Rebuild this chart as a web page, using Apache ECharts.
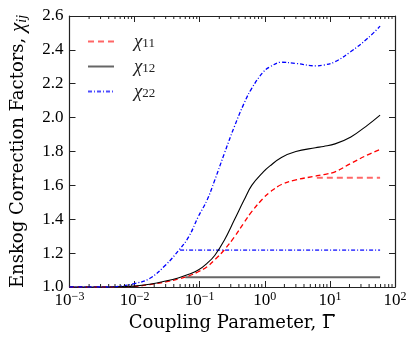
<!DOCTYPE html>
<html>
<head>
<meta charset="utf-8">
<script src="https://cdn.jsdelivr.net/npm/echarts@6/dist/echarts.min.js"></script>
<style>
html,body{margin:0;padding:0;background:#fff;}
#chart{width:415px;height:343px;}
</style>
</head>
<body>
<div id="chart"></div>
<script>
// coupling parameter (x) shared by the three full curves
var gamma = [0.001, 0.003, 0.006, 0.01, 0.017, 0.03, 0.048, 0.068, 0.095, 0.13, 0.17, 0.24, 0.34, 0.48, 0.63, 0.95, 1.2, 1.8, 3.0, 6.0, 8.0, 12, 21, 38, 59];
var chi11 = [1.0, 1.0, 1.002, 1.004, 1.014, 1.03, 1.048, 1.065, 1.09, 1.12, 1.16, 1.22, 1.295, 1.38, 1.445, 1.525, 1.56, 1.605, 1.632, 1.655, 1.664, 1.68, 1.73, 1.78, 1.812];
var chi12 = [1.0, 1.0, 1.002, 1.005, 1.016, 1.035, 1.055, 1.075, 1.10, 1.14, 1.186, 1.277, 1.395, 1.513, 1.60, 1.68, 1.715, 1.765, 1.80, 1.822, 1.83, 1.845, 1.886, 1.956, 2.015];
var chi22 = [1.0, 1.0, 1.005, 1.02, 1.05, 1.13, 1.218, 1.297, 1.415, 1.514, 1.63, 1.79, 1.946, 2.084, 2.173, 2.27, 2.30, 2.327, 2.32, 2.306, 2.31, 2.33, 2.39, 2.468, 2.54];

// capped branches (flat lines)
var chi11CapX = [6.3, 59], chi11CapY = [1.645, 1.645];
var chi12CapX = [0.06, 59], chi12CapY = [1.057, 1.057];
var chi22CapX = [0.05, 59], chi22CapY = [1.218, 1.218];

// minor ticks of the log axis
var minorTicks = [0.002, 0.003, 0.004, 0.005, 0.006, 0.007, 0.008, 0.009,
    0.02, 0.03, 0.04, 0.05, 0.06, 0.07, 0.08, 0.09,
    0.2, 0.3, 0.4, 0.5, 0.6, 0.7, 0.8, 0.9,
    2, 3, 4, 5, 6, 7, 8, 9,
    20, 30, 40, 50, 60, 70, 80, 90];

var legendNames = ['χ11', 'χ12', 'χ22'];
var FONT = 'Liberation Serif';
var NAME_FONT = 'DejaVu Serif';

function pairs(xs, ys){
    var out = [];
    for (var i = 0; i < xs.length; i++) out.push([xs[i], ys[i]]);
    return out;
}

// little canvas used as background of the Γ token -> overline
var bar = document.createElement('canvas');
bar.width = 20;
bar.height = 26;
var bctx = bar.getContext('2d');
bctx.fillStyle = '#000';
bctx.fillRect(1, 0.5, 18, 1.3);

var chart = echarts.init(document.getElementById('chart'), null, {renderer: 'canvas'});

var axisLineStyle = {color: '#222', width: 1.2};
var xLabelRich = {
    b: {fontFamily: FONT, fontSize: 17, color: '#000', lineHeight: 20},
    s: {fontFamily: FONT, fontSize: 12, color: '#000', lineHeight: 20, verticalAlign: 'top'}
};

var option = {
    animation: false,
    backgroundColor: '#fff',
    grid: {left: 61, right: 20, top: 16, bottom: 56},
    legend: {
        data: legendNames,
        orient: 'vertical',
        left: 82,
        top: 27,
        itemWidth: 26,
        itemHeight: 14,
        itemGap: 6,
        itemStyle: {opacity: 0},
        formatter: function(name){
            return '{c|χ}{n|' + name.slice(1) + '}';
        },
        textStyle: {
            padding: [0, 0, 0, 15],
            rich: {
                c: {fontFamily: FONT, fontSize: 19, fontStyle: 'italic', color: '#222', lineHeight: 18},
                n: {fontFamily: FONT, fontSize: 13, color: '#222', lineHeight: 9, verticalAlign: 'bottom'}
            }
        }
    },
    xAxis: [{
        type: 'log',
        logBase: 10,
        min: 0.001,
        max: 100,
        position: 'bottom',
        name: '{t|Coupling Parameter, }{g|Γ}',
        nameLocation: 'middle',
        nameGap: 22,
        nameTextStyle: {
            rich: {
                t: {fontFamily: NAME_FONT, fontSize: 18, color: '#000', lineHeight: 26},
                g: {fontFamily: NAME_FONT, fontSize: 18, color: '#000', lineHeight: 26, backgroundColor: {image: bar}}
            }
        },
        axisLine: {lineStyle: axisLineStyle},
        axisTick: {inside: true, length: 6, lineStyle: {color: '#222'}},
        splitLine: {show: false},
        axisLabel: {
            margin: 4,
            formatter: function(v){
                var e = Math.round(Math.log10(v));
                return '{b|10}{s|' + (e < 0 ? '\u2212' : '') + Math.abs(e) + '}';
            },
            rich: xLabelRich
        }
    }, {
        type: 'log',
        logBase: 10,
        min: 0.001,
        max: 100,
        position: 'top',
        axisLine: {lineStyle: axisLineStyle},
        axisTick: {inside: true, length: 6, lineStyle: {color: '#222'}},
        axisLabel: {show: false},
        splitLine: {show: false}
    }],
    yAxis: [{
        type: 'value',
        min: 1.0,
        max: 2.6,
        interval: 0.2,
        position: 'left',
        name: '{t|Enskog Correction Factors, }{c|χ}{s|ij}',
        nameLocation: 'middle',
        nameRotate: 90,
        nameGap: 40,
        nameTextStyle: {
            rich: {
                t: {fontFamily: NAME_FONT, fontSize: 18, color: '#000', lineHeight: 22},
                c: {fontFamily: FONT, fontSize: 21, fontStyle: 'italic', color: '#000', lineHeight: 22},
                s: {fontFamily: FONT, fontSize: 14, fontStyle: 'italic', color: '#000', lineHeight: 10, verticalAlign: 'bottom'}
            }
        },
        axisLine: {show: true, lineStyle: axisLineStyle},
        axisTick: {show: true, inside: true, length: 6, lineStyle: {color: '#222'}},
        splitLine: {show: false},
        axisLabel: {
            margin: 6,
            fontFamily: FONT,
            fontSize: 17,
            color: '#000',
            formatter: function(v){ return v.toFixed(1); }
        }
    }, {
        type: 'value',
        min: 1.0,
        max: 2.6,
        interval: 0.2,
        position: 'right',
        axisLine: {show: true, lineStyle: axisLineStyle},
        axisTick: {show: true, inside: true, length: 6, lineStyle: {color: '#222'}},
        axisLabel: {show: false},
        splitLine: {show: false}
    }],
    series: [
        // capped branches, these carry the legend entries
        {
            name: 'χ11', type: 'line', symbol: 'none', z: 3,
            data: pairs(chi11CapX, chi11CapY),
            lineStyle: {color: '#ff0000', opacity: 0.6, width: 2, type: [6, 4]},
            itemStyle: {color: '#ff6666'}
        },
        {
            name: 'χ12', type: 'line', symbol: 'none', z: 3,
            data: pairs(chi12CapX, chi12CapY),
            lineStyle: {color: '#000', opacity: 0.6, width: 2, type: 'solid'},
            itemStyle: {color: '#666'}
        },
        {
            name: 'χ22', type: 'line', symbol: 'none', z: 3,
            data: pairs(chi22CapX, chi22CapY),
            lineStyle: {color: '#0000ff', opacity: 0.7, width: 1.6, type: [4, 2, 1, 2]},
            itemStyle: {color: '#6666ff'}
        },
        // full curves
        {
            name: 'χ11 full', type: 'line', symbol: 'none', smooth: 0.4, z: 4,
            data: pairs(gamma, chi11),
            lineStyle: {color: '#ff0000', width: 1.3, type: [5, 3]}
        },
        {
            name: 'χ12 full', type: 'line', symbol: 'none', smooth: 0.4, z: 4,
            data: pairs(gamma, chi12),
            lineStyle: {color: '#000', width: 1.1, type: 'solid'}
        },
        {
            name: 'χ22 full', type: 'line', symbol: 'none', smooth: 0.4, z: 4,
            data: pairs(gamma, chi22),
            lineStyle: {color: '#0000ff', width: 1.3, type: [4, 2, 1, 2]}
        },
        // minor ticks on top and bottom of the frame
        {
            name: 'minor', type: 'custom', silent: true, z: 5,
            data: minorTicks.map(function(v){ return [v, 1.0]; }),
            renderItem: function(params, api){
                var bottom = api.coord([api.value(0), 1.0]);
                var top = api.coord([api.value(0), 2.6]);
                return {
                    type: 'group',
                    children: [
                        {type: 'line', shape: {x1: bottom[0], y1: bottom[1], x2: bottom[0], y2: bottom[1] - 3}, style: {stroke: '#222', lineWidth: 1}},
                        {type: 'line', shape: {x1: top[0], y1: top[1], x2: top[0], y2: top[1] + 3}, style: {stroke: '#222', lineWidth: 1}}
                    ]
                };
            }
        }
    ]
};

chart.setOption(option);
</script>
</body>
</html>
